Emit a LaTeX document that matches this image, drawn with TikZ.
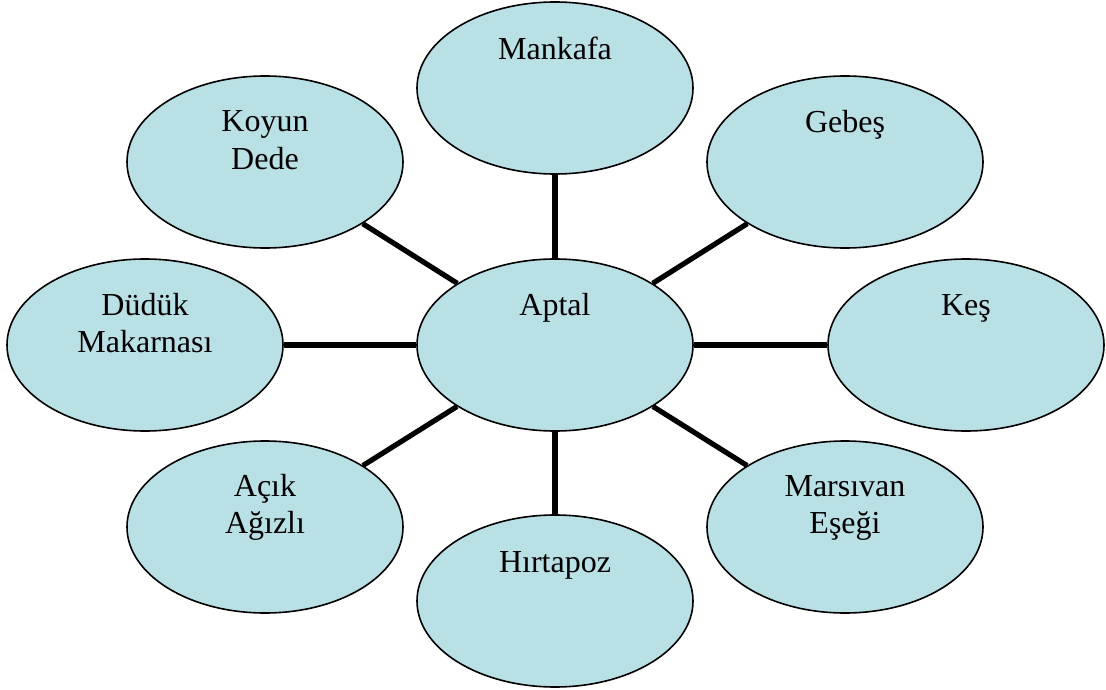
\documentclass[tikz,border=0pt]{standalone}
\usepackage{fontspec}
\setmainfont{Liberation Serif}
\usetikzlibrary{shapes.geometric,calc}
\definecolor{bubble}{RGB}{185,224,228}
\tikzset{
  bub/.style={ellipse, draw=black, line width=1.6pt, fill=bubble,
    minimum width=276pt, minimum height=172pt, inner sep=0pt},
  lbl/.style={anchor=base, align=center, inner sep=0pt,
    font=\fontsize{32}{37}\selectfont},
  link/.style={line width=5.2pt, black}
}
\begin{document}
\begin{tikzpicture}[x=1pt,y=-1pt]
\useasboundingbox (0,0) rectangle (1106,690);
\node[bub] (aptal) at (555,345) {};
\node[bub] (mankafa) at (555,88) {};
\node[bub] (gebes) at (845,162) {};
\node[bub] (kes) at (966,345) {};
\node[bub] (marsivan) at (845,527) {};
\node[bub] (hirtapoz) at (555,601) {};
\node[bub] (acik) at (265,527) {};
\node[bub] (duduk) at (145,345) {};
\node[bub] (koyun) at (265,162) {};

\foreach \n in {mankafa,gebes,kes,marsivan,hirtapoz,acik,duduk,koyun}
  \draw[link] (aptal) -- (\n);

\node[lbl] (t-aptal) at ($(aptal.center)+(0,-30)$) {Aptal};
\node[lbl] (t-mankafa) at ($(mankafa.center)+(0,-28)$) {Mankafa};
\node[lbl] (t-gebes) at ($(gebes.center)+(0,-29)$) {Gebeş};
\node[lbl] (t-kes) at ($(kes.center)+(0,-30)$) {Keş};
\node[lbl] (t-marsivan) at ($(marsivan.center)+(0,6)$) {Marsıvan\\Eşeği};
\node[lbl] (t-hirtapoz) at ($(hirtapoz.center)+(0,-29)$) {Hırtapoz};
\node[lbl] (t-acik) at ($(acik.center)+(0,6)$) {Açık\\Ağızlı};
\node[lbl] (t-duduk) at ($(duduk.center)+(0,7)$) {Düdük\\Makarnası};
\node[lbl] (t-koyun) at ($(koyun.center)+(0,7)$) {Koyun\\Dede};
\end{tikzpicture}
\end{document}
